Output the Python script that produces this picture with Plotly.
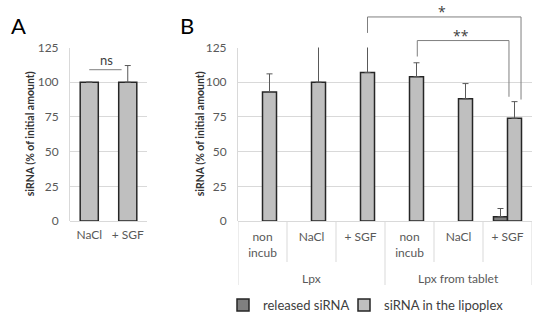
import plotly.graph_objects as go

# ---------------- data ----------------
a_categories = ["NaCl", "+ SGF"]
a_values = [100, 100]
a_errors = [0, 12]

b_groups = ["Lpx", "Lpx", "Lpx", "Lpx from tablet", "Lpx from tablet", "Lpx from tablet"]
b_conditions = ["non<br>incub", "NaCl", "+ SGF", "non<br>incub", "NaCl", "+ SGF"]
released_values = [None, None, None, None, None, 3]
released_errors = [None, None, None, None, None, 6]
lipoplex_values = [93, 100, 107, 104, 88, 74]
lipoplex_errors = [13, 30, 21, 10, 11, 12]

y_ticks = [0, 25, 50, 75, 100, 125]
series_names = ["released siRNA", "siRNA in the lipoplex"]
y_title = "siRNA (% of initial amount)"

# ---------------- style ----------------
W, H = 550, 321
FONT = "Lato"
GRID = "#d9d9d9"
TICKC = "#595959"
LIGHT = "#bfbfbf"
DARK = "#7f7f7f"
EDGE = "#262626"
ERR = "#595959"
BRK = "#7f7f7f"
YMAX = 125


def px_x(p):
    return p / W


def px_y(p):
    return 1 - p / H


ydom = [px_y(221), px_y(47.5)]
dom_a = [px_x(70), px_x(147)]
dom_b = [px_x(238), px_x(532)]


def yp(v):
    """data value on the y scale -> paper coordinate"""
    return ydom[0] + v / YMAX * (ydom[1] - ydom[0])


# unique category keys for panel B (group + condition), shown with condition text
b_keys = [f"{g} | {c}" for g, c in zip(b_groups, b_conditions)]

fig = go.Figure()

# Panel A
fig.add_trace(go.Bar(
    x=a_categories, y=a_values, xaxis="x", yaxis="y",
    width=0.47, marker=dict(color=LIGHT, line=dict(color=EDGE, width=1.5)),
    error_y=dict(type="data", array=a_errors, arrayminus=[0] * len(a_errors),
                 symmetric=False, color=ERR, thickness=1, width=3),
    showlegend=False, cliponaxis=False,
))

# Panel B
bw = 0.286
fig.add_trace(go.Bar(
    x=b_keys, y=released_values, xaxis="x2", yaxis="y2",
    name=series_names[0], width=bw, offset=-bw, legend="legend",
    marker=dict(color=DARK, line=dict(color=EDGE, width=1.5)),
    error_y=dict(type="data", array=released_errors, arrayminus=[0] * 6,
                 symmetric=False, color=ERR, thickness=1, width=3),
    cliponaxis=False,
))
fig.add_trace(go.Bar(
    x=b_keys, y=lipoplex_values, xaxis="x2", yaxis="y2",
    name=series_names[1], width=bw, offset=0, legend="legend2",
    marker=dict(color=LIGHT, line=dict(color=EDGE, width=1.5)),
    error_y=dict(type="data", array=lipoplex_errors, arrayminus=[0] * 6,
                 symmetric=False, color=ERR, thickness=1, width=3),
    cliponaxis=False,
))

yaxis_common = dict(
    range=[0, YMAX], tickvals=y_ticks, showgrid=True, gridcolor=GRID, gridwidth=1,
    zeroline=True, zerolinecolor=GRID, zerolinewidth=1,
    showline=True, linecolor=GRID, linewidth=1,
    tickfont=dict(family=FONT, size=12, color=TICKC), ticks="",
    ticklabelstandoff=8, domain=ydom, fixedrange=True, automargin=False,
)
legend_common = dict(orientation="h", xanchor="left", y=px_y(305), yanchor="middle",
                     font=dict(family=FONT, size=13, color="#404040"),
                     itemwidth=30, bgcolor="rgba(0,0,0,0)")

fig.update_layout(
    width=W, height=H, autosize=False,
    margin=dict(l=0, r=0, t=0, b=0, autoexpand=False),
    paper_bgcolor="white", plot_bgcolor="white",
    barmode="overlay",
    font=dict(family=FONT, color="#404040"),
    xaxis=dict(domain=dom_a, anchor="y", showgrid=False, showline=False, ticks="",
               automargin=False, ticklabelstandoff=5, fixedrange=True,
               tickfont=dict(family=FONT, size=12, color=TICKC)),
    yaxis=dict(anchor="x", **yaxis_common),
    xaxis2=dict(domain=dom_b, anchor="y2", type="category", showgrid=False,
                showline=False, ticks="", automargin=False, ticklabelstandoff=7,
                tickvals=b_keys, ticktext=b_conditions, fixedrange=True,
                range=[-0.5, len(b_keys) - 0.5],
                tickfont=dict(family=FONT, size=12, color=TICKC)),
    yaxis2=dict(anchor="x2", **yaxis_common),
    legend=dict(x=px_x(223), **legend_common),
    legend2=dict(x=px_x(344), **legend_common),
)

shapes = []
# category separators below panel B axis
n = len(b_keys)
for i in range(n + 1):
    pos = i - 0.5
    is_group_edge = i == 0 or i == n or b_groups[i - 1] != b_groups[i]
    shapes.append(dict(type="line", xref="x2", yref="paper", x0=pos, x1=pos,
                       y0=ydom[0], y1=px_y(285) if is_group_edge else px_y(262),
                       line=dict(color=GRID, width=1)))


# significance brackets (panel B)
def bracket(x0, x1, y_top, y0_bot, y1_bot):
    return dict(type="path", xref="x2", yref="paper",
                path=(f"M {x0},{yp(y0_bot)} L {x0},{yp(y_top)} "
                      f"L {x1},{yp(y_top)} L {x1},{yp(y1_bot)}"),
                line=dict(color=BRK, width=1))


shapes.append(bracket(2.143, 5.276, 147, 135.5, 87.5))
shapes.append(bracket(3.159, 5.03, 130, 118.5, 89.5))
# ns line (panel A)
shapes.append(dict(type="line", xref="x", yref="y", x0=0, x1=0.84, y0=109, y1=109,
                   line=dict(color=BRK, width=1)))
fig.update_layout(shapes=shapes)

title_font = dict(family=FONT, size=10.5, color="#333333", weight="bold")
annotations = [
    dict(text="A", x=px_x(18.5), y=px_y(25.5), xref="paper", yref="paper",
         xanchor="center", yanchor="middle",
         showarrow=False, font=dict(family=FONT, size=22, color="black")),
    dict(text="B", x=px_x(187), y=px_y(25.5), xref="paper", yref="paper",
         xanchor="center", yanchor="middle",
         showarrow=False, font=dict(family=FONT, size=22, color="black")),
    # y-axis titles
    dict(text=y_title, textangle=-90, x=px_x(30), y=yp(YMAX / 2), xref="paper",
         yref="paper", xanchor="center", yanchor="middle", showarrow=False,
         font=title_font),
    dict(text=y_title, textangle=-90, x=px_x(200), y=yp(YMAX / 2), xref="paper",
         yref="paper", xanchor="center", yanchor="middle", showarrow=False,
         font=title_font),
    dict(text="ns", x=0.45, y=109, xref="x", yref="y", yanchor="bottom", yshift=0,
         showarrow=False, font=dict(family=FONT, size=13, color="#404040")),
    dict(text="*", x=3.657, y=yp(147), xref="x2", yref="paper", yanchor="bottom",
         yshift=-6, showarrow=False, font=dict(family="Open Sans", size=14, color="#404040")),
    dict(text="**", x=4.05, y=yp(130), xref="x2", yref="paper", yanchor="bottom",
         yshift=-6, showarrow=False, font=dict(family="Open Sans", size=14, color="#404040")),
]
# group labels under the condition labels
for g in dict.fromkeys(b_groups):
    idx = [i for i, gg in enumerate(b_groups) if gg == g]
    annotations.append(dict(text=g, x=sum(idx) / len(idx), y=px_y(278), xref="x2",
                            yref="paper", xanchor="center", yanchor="middle",
                            showarrow=False,
                            font=dict(family=FONT, size=12, color=TICKC)))
fig.update_layout(annotations=annotations)

fig.write_html("out.html", config={"displayModeBar": False},
               post_script="document.body.style.margin='0px';")
